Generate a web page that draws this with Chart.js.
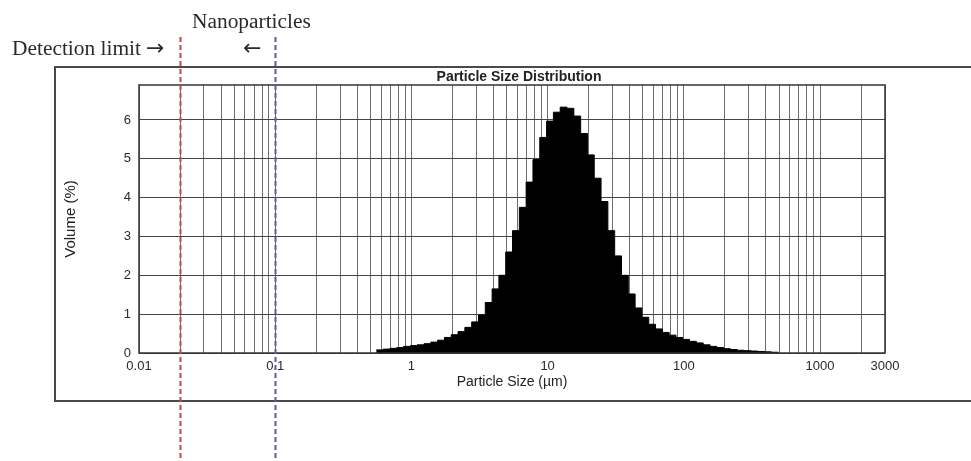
<!DOCTYPE html>
<html>
<head>
<meta charset="utf-8">
<script src="https://cdn.jsdelivr.net/npm/chart.js@4.4.1/dist/chart.umd.min.js"></script>
<style>
  body { margin: 0; background: #fff; }
  #wrap { position: relative; width: 971px; height: 461px; }
</style>
</head>
<body>
<div id="wrap"><canvas id="psd" width="971" height="461"></canvas></div>
<script>
// bin edges (µm) and volume % per bin
const sizeEdges = [0.552, 0.620, 0.695, 0.781, 0.876, 0.982, 1.102, 1.238, 1.388, 1.558,
    1.748, 1.961, 2.200, 2.468, 2.770, 3.108, 3.487, 3.913, 4.390, 4.925,
    5.526, 6.201, 6.958, 7.806, 8.758, 9.827, 11.03, 12.37, 13.88, 15.58,
    17.48, 19.61, 22.00, 24.68, 27.70, 31.08, 34.87, 39.13, 43.90, 49.25,
    55.26, 62.01, 69.57, 78.06, 87.58, 98.27, 110.2, 123.7, 138.8, 155.8,
    174.8, 196.1, 220.0, 246.8, 277.0, 310.8, 348.7, 391.3, 439.0, 492.5];
const volume = [0.08, 0.10, 0.12, 0.14, 0.17, 0.19, 0.21, 0.24, 0.28, 0.33,
    0.40, 0.47, 0.55, 0.66, 0.80, 0.98, 1.30, 1.65, 2.00, 2.60,
    3.15, 3.75, 4.40, 4.98, 5.55, 5.97, 6.20, 6.33, 6.30, 6.10,
    5.65, 5.10, 4.50, 3.90, 3.15, 2.50, 2.00, 1.52, 1.16, 0.92,
    0.74, 0.62, 0.53, 0.46, 0.40, 0.35, 0.30, 0.26, 0.21, 0.17,
    0.14, 0.11, 0.09, 0.07, 0.06, 0.05, 0.04, 0.03, 0.02];

const xTickLabels = [0.01, 0.1, 1, 10, 100, 1000, 3000];
const yTicks = [0, 1, 2, 3, 4, 5, 6];
const detectionLimit = 0.02;
const nanoLimit = 0.1;

// log grid: 1..9 per decade, plus the 3000 end
const gridValues = [];
for (let d = -2; d <= 3; d++) {
    for (let m = 1; m <= 9; m++) {
        const v = m * Math.pow(10, d);
        if (v <= 3000) gridValues.push(+v.toPrecision(3));
    }
}

const points = sizeEdges.map((e, i) => ({x: e, y: i < volume.length ? volume[i] : 0}));

const overlay = {
    id: 'overlay',
    afterDraw(chart) {
        const c = chart.ctx, a = chart.chartArea, xs = chart.scales.x;
        c.save();
        c.strokeStyle = '#333';
        c.lineWidth = 1.5;
        c.strokeRect(a.left, a.top, a.right - a.left, a.bottom - a.top);

        // chart title, over the plot area
        c.fillStyle = '#222';
        c.font = 'bold 14px "Liberation Sans", Arial, sans-serif';
        c.textAlign = 'center';
        c.textBaseline = 'middle';
        c.fillText('Particle Size Distribution', (a.left + a.right) / 2 + 7, 77);

        // outer frame
        c.strokeStyle = '#4a4a4a';
        c.lineWidth = 2;
        c.beginPath();
        c.moveTo(980, 67); c.lineTo(55, 67); c.lineTo(55, 401); c.lineTo(980, 401);
        c.stroke();

        // dashed markers
        c.lineWidth = 2;
        c.setLineDash([5, 3]);
        [[detectionLimit, '#cc4444'], [nanoLimit, '#5a5aa0']].forEach(([v, col]) => {
            const px = Math.round(xs.getPixelForValue(v)) + 0.5;
            c.strokeStyle = col;
            c.beginPath();
            c.moveTo(px, 37); c.lineTo(px, 461);
            c.stroke();
        });
        c.setLineDash([]);

        c.fillStyle = '#2a2a2a';
        c.textAlign = 'left';
        c.textBaseline = 'alphabetic';
        c.font = '20px "Liberation Serif", "DejaVu Serif", serif';
        c.save();
        c.scale(1.07, 1);
        c.fillText('Nanoparticles', 192 / 1.07, 28);
        c.fillText('Detection limit', 12 / 1.07, 55);
        c.restore();
        c.font = '22px "DejaVu Sans", sans-serif';
        c.fillText('→', 146, 55);
        c.fillText('←', 243, 55);
        c.restore();
    }
};

new Chart(document.getElementById('psd'), {
    type: 'line',
    data: {
        datasets: [{
            label: 'Volume',
            data: points,
            stepped: true,
            fill: 'origin',
            backgroundColor: '#000',
            borderColor: '#000',
            borderWidth: 1,
            pointRadius: 0
        }]
    },
    options: {
        responsive: false,
        animation: false,
        layout: { padding: { left: 60, right: 86, top: 85, bottom: 68 } },
        plugins: {
            legend: { display: false },
            tooltip: { enabled: false },
            title: { display: false }
        },
        scales: {
            x: {
                type: 'logarithmic',
                min: 0.01,
                max: 3000,
                afterBuildTicks: s => { s.ticks = gridValues.map(v => ({value: v})); },
                afterFit: s => { s.height = 40; },
                grid: { color: '#6e6e6e', lineWidth: 1, drawTicks: false },
                border: { display: false },
                ticks: {
                    autoSkip: false,
                    maxRotation: 0,
                    padding: 6,
                    color: '#2a2a2a',
                    font: { family: '"Liberation Sans", Arial, sans-serif', size: 13 },
                    callback: v => xTickLabels.includes(v) ? String(v) : ''
                },
                title: {
                    display: true,
                    text: 'Particle Size (µm)',
                    color: '#222',
                    font: { family: '"Liberation Sans", Arial, sans-serif', size: 14 },
                    padding: { top: 0, bottom: 2 }
                }
            },
            y: {
                min: 0,
                max: 6.9,
                afterBuildTicks: s => { s.ticks = yTicks.map(v => ({value: v})); },
                afterFit: s => { s.width = 79; },
                grid: { color: '#444', lineWidth: 1, drawTicks: false },
                border: { display: false },
                ticks: {
                    padding: 8,
                    color: '#2a2a2a',
                    font: { family: '"Liberation Sans", Arial, sans-serif', size: 13 }
                },
                title: {
                    display: true,
                    text: 'Volume (%)',
                    color: '#222',
                    font: { family: '"Liberation Sans", Arial, sans-serif', size: 15 },
                    padding: { top: 2, bottom: 0 }
                }
            }
        }
    },
    plugins: [overlay]
});
</script>
</body>
</html>
